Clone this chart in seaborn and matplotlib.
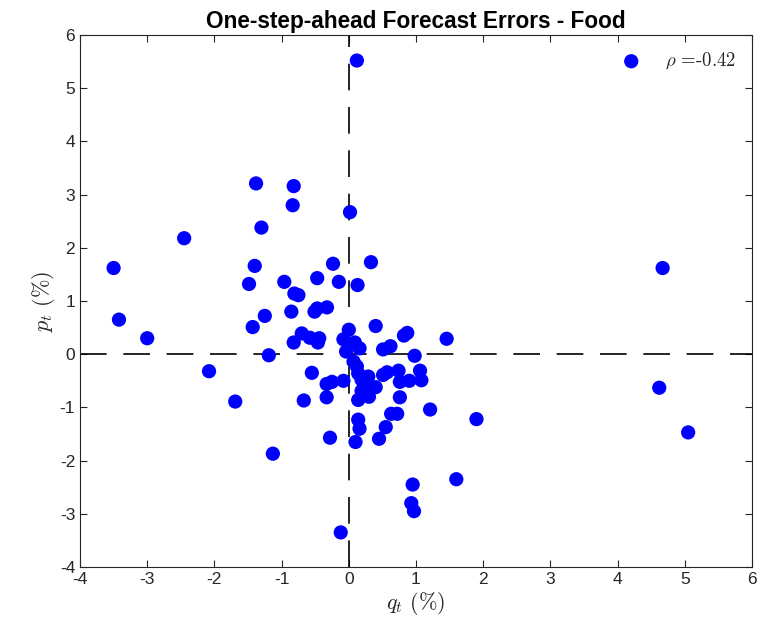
import matplotlib
matplotlib.use("Agg")
import matplotlib.pyplot as plt
import seaborn as sns
import pandas as pd

q_vals = [0.12, -3.50, -3.42, -3.00, -2.45, -2.08, -1.69, -1.13,
          -1.38, -0.82, -0.835, -1.30, 0.018, -1.40, -0.235, 0.33,
          -1.485, -0.96, -0.47, -0.148, 0.13, -0.81, -0.75, -0.855,
          -0.51, -0.47, -0.325, -1.25, -1.43, 0.0, 0.40, 0.82, 0.87,
          1.456, -0.70, -0.58, -0.44, -0.46, -0.82, -0.08, 0.09, 0.16,
          -0.04, 0.51, 0.62, 0.98, -1.19, 0.07, 0.12, 0.14, -0.55,
          0.29, 0.19, -0.08, -0.25, -0.33, 0.51, 0.57, 0.74, 1.06, 1.08,
          0.76, 0.90, 0.40, 0.24, 0.19, 0.30, 0.14, 0.76, -0.33, -0.67,
          1.21, 0.63, 0.72, 0.14, 0.16, 0.55, 1.90, -0.28, 0.10, 0.45,
          0.95, 1.60, 0.93, 0.97, -0.12, 4.62, 5.05, 4.67]
p_vals = [5.52, 1.62, 0.65, 0.30, 2.18, -0.32, -0.89, -1.87,
          3.21, 3.16, 2.80, 2.38, 2.67, 1.66, 1.70, 1.73,
          1.32, 1.36, 1.43, 1.36, 1.30, 1.14, 1.11, 0.80,
          0.80, 0.86, 0.88, 0.72, 0.51, 0.46, 0.53, 0.35, 0.40,
          0.29, 0.39, 0.31, 0.30, 0.22, 0.22, 0.28, 0.22, 0.11,
          0.05, 0.09, 0.15, -0.03, -0.02, -0.14, -0.23, -0.36, -0.35,
          -0.42, -0.48, -0.50, -0.52, -0.56, -0.39, -0.34, -0.31, -0.31, -0.49,
          -0.52, -0.50, -0.62, -0.64, -0.69, -0.80, -0.86, -0.81, -0.81, -0.87,
          -1.04, -1.12, -1.12, -1.23, -1.40, -1.37, -1.22, -1.57, -1.65, -1.59,
          -2.45, -2.35, -2.80, -2.95, -3.35, -0.63, -1.47, 1.62]

x_ticks = [-4, -3, -2, -1, 0, 1, 2, 3, 4, 5, 6]
y_ticks = [-4, -3, -2, -1, 0, 1, 2, 3, 4, 5, 6]
title = "One-step-ahead Forecast Errors - Food"
legend_label = r"$\rho$ =-0.42"

sns.set_theme(style="white")
plt.rcParams['font.family'] = ['Liberation Sans', 'DejaVu Sans']
plt.rcParams['mathtext.fontset'] = 'cm'

df = pd.DataFrame({"q": q_vals, "p": p_vals})

fig = plt.figure(figsize=(7.69, 6.31), dpi=100)
ax = fig.add_axes([80/769, 1 - 567/631, 672/769, 532/631])

ax.axhline(0, color="black", lw=1.2, dashes=(16, 10), zorder=1)
ax.axvline(0, color="black", lw=1.2, dashes=(16, 10), zorder=1)

sns.scatterplot(data=df, x="q", y="p", ax=ax, color=(0, 0, 1), s=105,
                edgecolor="none", linewidth=0, label=legend_label, zorder=3)

ax.set_xlim(-4, 6)
ax.set_ylim(-4, 6)
ax.set_xticks(x_ticks)
ax.set_yticks(y_ticks)
ax.set_xticklabels([str(t) for t in x_ticks])
ax.set_yticklabels([str(t) for t in y_ticks])
ax.tick_params(direction="in", length=5, width=0.8, labelsize=12.5,
               colors="#262626", top=True, right=True, bottom=True, left=True)
for s in ax.spines.values():
    s.set_color("#262626")
    s.set_linewidth(0.8)

ax.set_xlabel(r"$q_t\ (\%)$", fontsize=16, color="#262626", labelpad=2)
ax.set_ylabel(r"$p_t\ (\%)$", fontsize=16, color="#262626", labelpad=2)
ax.set_title(title, fontsize=16.3, fontweight="bold", color="black", pad=5)

leg = ax.legend(loc="upper right", frameon=False,
                prop={"family": "cmr10", "size": 13.5},
                handletextpad=0.8, borderaxespad=0.45, markerscale=1.0)

fig.savefig("out.png", dpi=100)
